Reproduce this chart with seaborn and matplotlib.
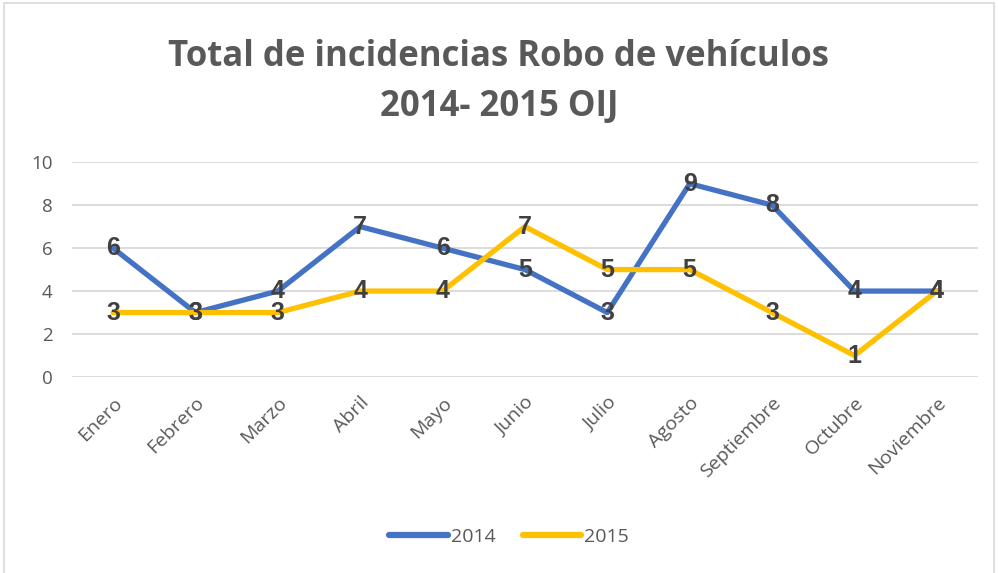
import pandas as pd
import seaborn as sns
import matplotlib.pyplot as plt
from matplotlib.patches import Rectangle

# Datos
meses = ['Enero', 'Febrero', 'Marzo', 'Abril', 'Mayo', 'Junio', 'Julio',
         'Agosto', 'Septiembre', 'Octubre', 'Noviembre']
robos_2014 = [6, 3, 4, 7, 6, 5, 3, 9, 8, 4, 4]
robos_2015 = [3, 3, 3, 4, 4, 7, 5, 5, 3, 1, 4]
colores = {'2014': '#4472C4', '2015': '#FFC000'}

df = pd.DataFrame({
    'mes': meses * 2,
    'pos': list(range(len(meses))) * 2,
    'valor': robos_2014 + robos_2015,
    'anio': ['2014'] * len(meses) + ['2015'] * len(meses),
})

sns.set_style('white')
plt.rcParams['font.family'] = ['Open Sans', 'DejaVu Sans']

fig = plt.figure(figsize=(9.98, 5.73), dpi=100)
ax = fig.add_axes([0.072, 0.342, 0.908, 0.375])

sns.lineplot(data=df, x='pos', y='valor', hue='anio', palette=colores,
             linewidth=3.8, sort=False, ax=ax)

# Etiquetas de datos
for _, fila in df.iterrows():
    ax.text(fila['pos'], fila['valor'], str(fila['valor']), ha='center', va='center',
            fontsize=18, fontweight='bold', color='#404040',
            family=['Liberation Sans', 'DejaVu Sans'])

ax.set_xlim(-0.5, len(meses) - 0.5)
ax.set_ylim(0, 10)
ax.set_yticks(range(0, 11, 2))
ax.set_xticks(range(len(meses)))
ax.set_xticklabels(meses, rotation=45, ha='right', rotation_mode='anchor')
ax.tick_params(axis='y', colors='#595959', labelsize=13.5, length=0, pad=14)
ax.tick_params(axis='x', colors='#595959', labelsize=14, length=0, pad=12)
ax.grid(axis='y', color='#D9D9D9', linewidth=1.3)
ax.set_axisbelow(True)
for s in ax.spines.values():
    s.set_visible(False)
ax.set_xlabel('')
ax.set_ylabel('')

fig.text(0.5, 0.9, 'Total de incidencias Robo de vehículos', ha='center', va='center',
         fontsize=25, fontweight='bold', color='#595959')
fig.text(0.5, 0.813, '2014- 2015 OIJ', ha='center', va='center',
         fontsize=25, fontweight='bold', color='#595959')

ax.legend(loc='center', bbox_to_anchor=(0.51, 0.063), bbox_transform=fig.transFigure,
          ncol=2, frameon=False, fontsize=14, handlelength=3.0, handletextpad=0.15,
          columnspacing=1.4, labelcolor='#595959')
for linea in ax.get_legend().get_lines():
    linea.set_linewidth(4.5)

fig.patches.append(Rectangle((0.004, -0.01), 0.992, 1.005, transform=fig.transFigure,
                             fill=False, edgecolor='#D9D9D9', linewidth=1.2))

fig.savefig('out.png', dpi=100)
